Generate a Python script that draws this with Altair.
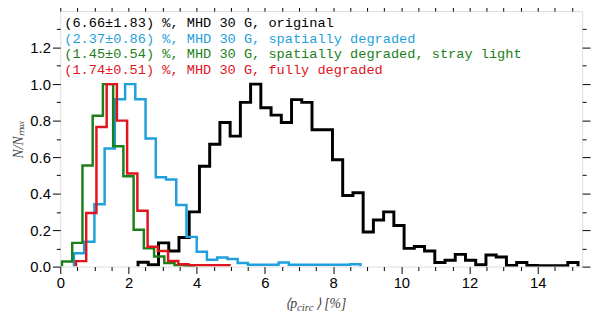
import altair as alt
import pandas as pd

# ---------------- data ----------------
BIN_WIDTH = 0.3  # histogram bin width in %

series_names = ["original", "spatially degraded",
                "spatially degraded, stray light", "fully degraded"]
legend_labels = [
    "(6.66±1.83) %, MHD 30 G, original",
    "(2.37±0.86) %, MHD 30 G, spatially degraded",
    "(1.45±0.54) %, MHD 30 G, spatially degraded, stray light",
    "(1.74±0.51) %, MHD 30 G, fully degraded",
]
colors = ["#000000", "#1f9fdc", "#1b801b", "#e0141e"]
line_widths = [3.0, 2.5, 2.5, 2.5]

# left edge of the first bin of each histogram
first_edges = [2.28, 0.40, 0.05, 0.46]

black_vals = [0.024, 0.01, 0.13, 0.085, 0.16, 0.30, 0.55, 0.67, 0.79, 0.715,
              0.90, 1.0, 0.87, 0.83, 0.79, 0.915, 0.90, 0.75, 0.75, 0.585,
              0.39, 0.405, 0.19, 0.255, 0.30, 0.225, 0.10, 0.11, 0.085, 0.023,
              0.035, 0.067, 0.035, 0.01, 0.064, 0.053, 0.006, 0.023, 0.006, 0.005,
              0.005, 0.005, 0.023]
blue_vals = [0.073, 0.136, 0.342, 0.647, 0.917, 1.0, 0.917, 0.702, 0.49, 0.477,
             0.337, 0.163, 0.082, 0.037, 0.05, 0.042, 0.02, 0.01, 0.01, 0.01,
             0.023, 0.01, 0.01, 0.01, 0.01, 0.01, 0.01, 0.013]
green_vals = [0.028, 0.13, 0.554, 0.827, 1.0, 0.66, 0.495, 0.202, 0.10, 0.055,
              0.019, 0.008, 0.005]
red_vals = [0.03, 0.294, 0.765, 1.0, 0.80, 0.51, 0.306, 0.109, 0.085, 0.031,
            0.013, 0.008, 0.008, 0.008, 0.008]

all_vals = [black_vals, blue_vals, green_vals, red_vals]

x_ticks = [i * 0.5 for i in range(31)]          # 0 .. 15 every 0.5
y_ticks = [round(i * 0.1, 1) for i in range(14)]  # 0 .. 1.3 every 0.1

X_DOMAIN = [0, 15.3]
Y_DOMAIN = [0, 1.4]

x_title_parts = ["⟨p", "circ", "⟩ [%]"]
y_title = "N/Nₘₐₓ"


# ---------------- build step outlines ----------------
def step_table(start, vals, name):
    rows = [{"x": start, "y": 0.0, "s": name, "o": 0}]
    for i, v in enumerate(vals):
        rows.append({"x": round(start + i * BIN_WIDTH, 4), "y": v, "s": name, "o": i + 1})
    rows.append({"x": round(start + len(vals) * BIN_WIDTH, 4), "y": 0.0,
                 "s": name, "o": len(vals) + 1})
    return pd.DataFrame(rows)


W, H = 529, 259
xscale = alt.Scale(domain=X_DOMAIN, nice=False, zero=False)
yscale = alt.Scale(domain=Y_DOMAIN, nice=False, zero=False)

x_major = "datum.value % 2 === 0"
y_major = "abs(datum.value * 5 - round(datum.value * 5)) < 0.001"

common_axis = dict(
    domain=False, grid=False, tickColor="black", tickWidth=1,
    labelFont="Liberation Sans", labelFontSize=15, labelColor="black",
    labelOverlap=False,
)

bottom_axis = alt.Axis(
    orient="bottom", values=x_ticks, title=None,
    tickSize={"condition": {"test": x_major, "value": 7}, "value": 4},
    labelExpr=f"{x_major} ? format(datum.value, 'd') : ''",
    labelPadding=2, labelFlush=False, **common_axis)
top_axis = alt.Axis(
    orient="top", values=x_ticks, title=None, labels=False,
    tickSize={"condition": {"test": x_major, "value": 7}, "value": 4},
    **common_axis)
left_axis = alt.Axis(
    orient="left", values=y_ticks, title=y_title,
    tickSize={"condition": {"test": y_major, "value": 8}, "value": 4},
    labelExpr=f"({y_major} && datum.value < 1.25) ? format(datum.value, '.1f') : ''",
    labelPadding=2, labelFlush=False,
    titleFont="Liberation Serif", titleFontStyle="italic", titleFontWeight="normal",
    titleFontSize=14, titleColor="#444444", titlePadding=4,
    **common_axis)
right_axis = alt.Axis(
    orient="right", values=y_ticks, title=None, labels=False,
    tickSize={"condition": {"test": y_major, "value": 8}, "value": 4},
    **common_axis)

axes_x = [bottom_axis, top_axis, None, None]
axes_y = [left_axis, right_axis, None, None]

layers = []
for name, start, vals, col, lw, ax, ay in zip(series_names, first_edges, all_vals,
                                              colors, line_widths, axes_x, axes_y):
    df = step_table(start, vals, name)
    layers.append(
        alt.Chart(df).mark_line(interpolate="step-after", color=col, strokeWidth=lw,
                                clip=True, strokeJoin="miter")
        .encode(
            x=alt.X("x:Q", scale=xscale, axis=ax),
            y=alt.Y("y:Q", scale=yscale, axis=ay),
            order="o:Q",
        )
    )

# legend text lines (top-left inside the frame)
legend_y = [12.4, 28.4, 44.0, 59.7]
for lab, col, yy in zip(legend_labels, colors, legend_y):
    layers.append(
        alt.Chart(pd.DataFrame({"t": [lab]})).mark_text(
            align="left", baseline="middle", font="Liberation Mono",
            fontSize=13.8, color=col)
        .encode(text="t:N", x=alt.value(4), y=alt.value(yy))
    )

# x-axis title with subscript
x_title_specs = [(228, 297, 14), (240, 301, 11), (259, 297, 14)]
for txt, (xx, yy, fs) in zip(x_title_parts, x_title_specs):
    layers.append(
        alt.Chart(pd.DataFrame({"t": [txt]})).mark_text(
            align="left", baseline="middle", font="Liberation Serif",
            fontStyle="italic", fontSize=fs, color="#444444")
        .encode(text="t:N", x=alt.value(xx), y=alt.value(yy))
    )

chart = (
    alt.layer(*layers)
    .resolve_axis(x="independent", y="independent")
    .properties(width=W, height=H,
                autosize=alt.AutoSizeParams(type="none"),
                padding={"left": 53, "top": 1, "right": 10, "bottom": 54})
    .configure_view(stroke="black", strokeWidth=1.5)
    .configure(background="white")
)

chart.save("out.html", embed_options={"renderer": "svg", "actions": False})
